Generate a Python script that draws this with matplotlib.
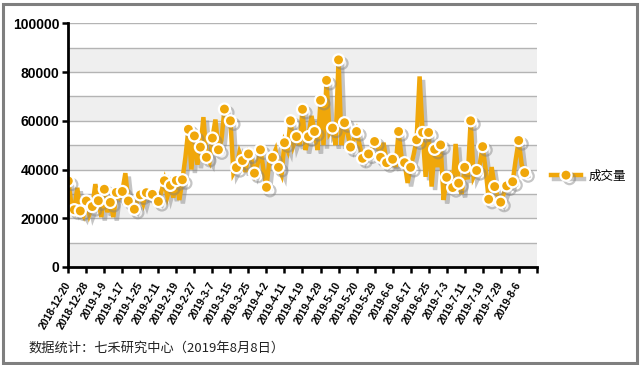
import matplotlib.pyplot as plt
import matplotlib.patheffects as pe
from matplotlib.lines import Line2D
from matplotlib.patches import Rectangle

plt.rcParams['font.family'] = ['Liberation Sans', 'Noto Sans CJK SC', 'DejaVu Sans']

# daily volume, one value per trading day 2018-12-20 .. 2019-8-8
volume = [
    35300, 26000, 23500, 32500, 23000, 21000, 27100, 21500, 24800, 34000,
    27200, 20500, 31900, 22500, 26500, 20500, 30600, 28500, 31000, 38500,
    27100, 25500, 23700, 27000, 29600, 26000, 30500, 28500, 29800, 28000,
    26900, 31000, 35400, 29000, 33500, 28500, 35500, 27500, 35800, 45000,
    56500, 40000, 53800, 42000, 49200, 61500, 45000, 43000, 52900, 60500,
    48100, 52000, 64800, 61000, 60000, 38500, 40800, 47000, 43700, 39000,
    46400, 44000, 38500, 42000, 48100, 40000, 32700, 44000, 45000, 48000,
    40900, 38000, 51000, 48000, 60000, 50000, 53500, 50000, 64700, 48000,
    53500, 62000, 55600, 48000, 68400, 50000, 76600, 55000, 57000, 50000,
    85000, 50000, 59200, 55000, 49200, 52000, 55600, 50000, 44600, 47000,
    46400, 48000, 51500, 50000, 45000, 51000, 42800, 44000, 44200, 41000,
    55600, 45000, 42800, 34500, 40900, 46000, 52200, 78200, 55200, 37000,
    55200, 33000, 48300, 41000, 50100, 27500, 36800, 38000, 32600, 50500,
    34400, 30000, 40900, 36000, 60000, 37000, 39600, 42000, 49400, 40000,
    27800, 41000, 33000, 29000, 26600, 30000, 33300, 34000, 35000, 44000,
    51900, 42000, 38700,
]

tick_labels = [
    '2018-12-20', '2018-12-28', '2019-1-9', '2019-1-17', '2019-1-25',
    '2019-2-11', '2019-2-19', '2019-2-27', '2019-3-7', '2019-3-15',
    '2019-3-25', '2019-4-2', '2019-4-11', '2019-4-19', '2019-4-29',
    '2019-5-10', '2019-5-20', '2019-5-29', '2019-6-6', '2019-6-17',
    '2019-6-25', '2019-7-3', '2019-7-11', '2019-7-19', '2019-7-29',
    '2019-8-6',
]

orange = '#f0a70a'

fig = plt.figure(figsize=(6.4, 3.65), dpi=100)
ax = fig.add_axes([68.3 / 640, 1 - 267 / 365, 468.4 / 640, 243.7 / 365])

# alternating bands + grid
for lo in range(0, 100000, 20000):
    ax.axhspan(lo, lo + 10000, color='#efefef', lw=0, zorder=0)
for y in range(10000, 100001, 10000):
    ax.axhline(y, color='#b4b4b4', lw=1, zorder=1)

shadow = [pe.SimpleLineShadow(offset=(2.5, -2.5), shadow_color='#808080', alpha=0.45), pe.Normal()]

x = list(range(len(volume)))
ax.plot(x, volume, color=orange, lw=3.2, solid_joinstyle='miter', zorder=3, path_effects=shadow)
ax.plot(x[::2], volume[::2], ls='none', marker='o', ms=8, mfc=orange, mec='white', mew=1.6,
        zorder=4, path_effects=shadow)

ax.set_xlim(0, 156)
ax.set_ylim(0, 100000)

ax.set_xticks(range(0, 157, 6))
ax.set_xticklabels(tick_labels + [''], rotation=60, ha='right', va='center',
                   rotation_mode='anchor', fontsize=7.5, fontweight='bold')
ax.set_yticks(range(0, 100001, 20000))
ax.set_yticklabels([str(v) for v in range(0, 100001, 20000)], fontsize=10, fontweight='bold')
ax.tick_params(axis='both', direction='out', length=4.5, width=1.8, colors='black')
ax.tick_params(axis='x', pad=7)
ax.tick_params(axis='y', pad=2)

for s in ['top', 'right']:
    ax.spines[s].set_visible(False)
for s in ['left', 'bottom']:
    ax.spines[s].set_linewidth(2)
    ax.spines[s].set_zorder(5)

# legend
handle = Line2D([], [], color=orange, lw=3.2, marker='o', ms=8, mfc=orange, mec='white', mew=1.6)
leg = ax.legend(handles=[handle], labels=['成交量'], loc='center left', frameon=False,
                bbox_to_anchor=(551 / 640, 1 - 176 / 365), bbox_transform=fig.transFigure,
                borderaxespad=0, borderpad=0, handlelength=2.4, handletextpad=0.6,
                prop={'family': ['Noto Sans CJK SC'], 'size': 9})
for ln in leg.get_lines():
    ln.set_path_effects(shadow)

fig.text(28 / 640, 1 - 348 / 365, '数据统计：七禾研究中心（2019年8月8日）', fontsize=9.5,
         va='center', color='#222222', family=['Noto Sans CJK SC', 'DejaVu Sans'])

# outer frame
fig.add_artist(Rectangle((2.5 / 640, 2.5 / 365), 634 / 640, 359 / 365, fill=False,
                         edgecolor='#7f7f7f', lw=2.2, transform=fig.transFigure))

fig.savefig('out.png', dpi=100)
